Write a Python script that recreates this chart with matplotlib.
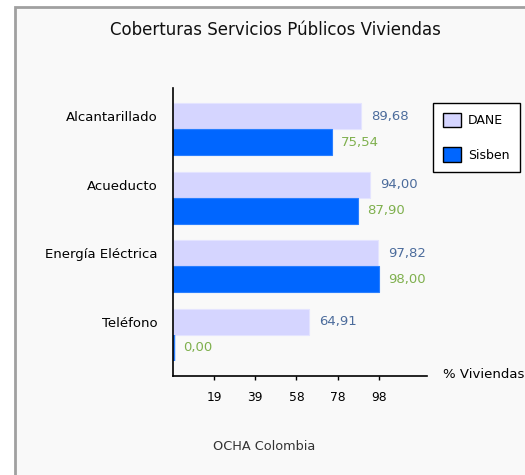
import matplotlib
matplotlib.use('Agg')
import matplotlib.pyplot as plt
from matplotlib.patches import Rectangle, Patch

categories = ['Alcantarillado', 'Acueducto', 'Energía Eléctrica', 'Teléfono']
dane = [89.68, 94.00, 97.82, 64.91]
sisben = [75.54, 87.90, 98.00, 0.00]
tick_vals = [19.6, 39.2, 58.8, 78.4, 98.0]
tick_labels = ['19', '39', '58', '78', '98']

DANE_COLOR = '#D5D5FF'
SISBEN_COLOR = '#0066FF'
DANE_TEXT = '#4C6C9C'
SISBEN_TEXT = '#7FB04E'
BG = '#F9F9F9'

fig = plt.figure(figsize=(5.25, 4.75), dpi=100)
fig.patch.set_facecolor('white')

# page panel with grey frame (runs off the right/bottom edge)
fig.patches.append(Rectangle((15 / 525, -0.05), 1.1, 1 - 7 / 475 + 0.05,
                             transform=fig.transFigure, facecolor=BG,
                             edgecolor='#A0A0A0', linewidth=2, zorder=-5))

ax = fig.add_axes([173 / 525, 1 - 376 / 475, (427 - 173) / 525, (376 - 88) / 475])
ax.set_facecolor('none')
ax.set_zorder(2)

y = list(range(len(categories)))
h = 0.38
y_dane = [i - h / 2 for i in y]
y_sis = [i + h / 2 for i in y]

# a zero-length bar still shows as a thin stroke next to the axis
sis_lw = [3.2 if v == 0 else 0.8 for v in sisben]

ax.barh(y_dane, dane, height=h, color=DANE_COLOR, edgecolor='#E4E4FF', linewidth=0.8)
ax.barh(y_sis, sisben, height=h, color=SISBEN_COLOR, edgecolor='#2A7FFF',
        linewidth=sis_lw)

for yy, v in zip(y_dane, dane):
    ax.annotate(f'{v:.2f}'.replace('.', ','), (v, yy), xytext=(7, 0),
                textcoords='offset points', ha='left', va='center',
                fontsize=9.5, color=DANE_TEXT)
for yy, v in zip(y_sis, sisben):
    ax.annotate(f'{v:.2f}'.replace('.', ','), (v, yy), xytext=(7, 0),
                textcoords='offset points', ha='left', va='center',
                fontsize=9.5, color=SISBEN_TEXT)

ax.set_xlim(0, 121)
ax.set_ylim(3.6, -0.6)
ax.set_xticks(tick_vals)
ax.set_xticklabels(tick_labels)
ax.set_yticks(y_dane)
ax.set_yticklabels(categories)
ax.tick_params(axis='x', length=3, width=1, pad=8, labelsize=8.8, color='black')
ax.tick_params(axis='y', length=0, pad=11, labelsize=9.5)

for s in ['top', 'right']:
    ax.spines[s].set_visible(False)
for s in ['left', 'bottom']:
    ax.spines[s].set_color('black')
    ax.spines[s].set_linewidth(1.2)

fig.text(275 / 525, 1 - 30 / 475, 'Coberturas Servicios Públicos Viviendas',
         ha='center', va='center', fontsize=12, color='#111111')
fig.text(443 / 525, 1 - 375 / 475, '% Viviendas', ha='left', va='center',
         fontsize=9.5, color='black')
fig.text(213 / 525, 1 - 447 / 475, 'OCHA Colombia', ha='left', va='center',
         fontsize=9.3, color='#333333')

handles = [Patch(facecolor=DANE_COLOR, edgecolor='black', linewidth=1),
           Patch(facecolor=SISBEN_COLOR, edgecolor='black', linewidth=1)]
leg = fig.legend(handles, ['DANE', 'Sisben'], loc='upper left',
                 bbox_to_anchor=(433 / 525, 1 - 103 / 475), fontsize=9,
                 fancybox=False, edgecolor='black', facecolor='white', framealpha=1,
                 handlelength=1.4, handleheight=1.4, labelspacing=1.6,
                 handletextpad=0.6, borderpad=0.8, borderaxespad=0)
leg.get_frame().set_linewidth(1)

fig.savefig('out.png', dpi=100)
